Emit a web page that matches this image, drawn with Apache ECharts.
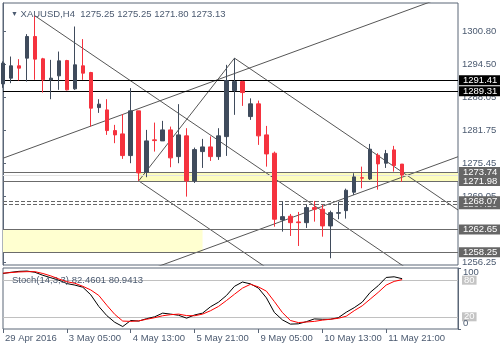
<!DOCTYPE html>
<html>
<head>
<meta charset="utf-8">
<script src="https://cdn.jsdelivr.net/npm/echarts@6/dist/echarts.min.js"></script>
<style>
  html, body { margin: 0; padding: 0; background: #ffffff; }
  #chart { width: 500px; height: 350px; }
</style>
</head>
<body>
<div id="chart"></div>
<script>
// ---- data -------------------------------------------------------------
const symbolTitle = 'XAUUSD,H4';
const lastQuote = ['1275.25', '1275.25', '1271.80', '1273.13'];

// date labels, one every 8 H4 bars
const timeTicks = ['29 Apr 2016', '3 May 05:00', '4 May 13:00', '5 May 21:00',
                   '9 May 05:00', '10 May 13:00', '11 May 21:00'];
const barsPerTick = 8;
const totalSlots = 58; // bar slots shown, including the empty right margin

const opens  = [1290.71, 1291.81, 1294.19, 1295.67, 1299.84, 1295.54, 1291.49, 1292.26, 1295.21, 1289.75,
                1294.19, 1292.90, 1286.14, 1285.70, 1281.71, 1281.07, 1276.89, 1285.51, 1273.68, 1279.92,
                1279.72, 1281.84, 1276.69, 1280.69, 1272.01, 1277.66, 1278.56, 1276.69, 1280.55, 1289.42,
                1291.16, 1284.41, 1286.86, 1280.88, 1277.35, 1264.49, 1265.20, 1264.10, 1263.96, 1266.86,
                1266.55, 1263.33, 1265.78, 1266.28, 1269.83, 1272.64, 1272.39, 1276.96, 1275.42, 1277.99,
                1275.25];
const highs  = [1295.05, 1295.98, 1295.48, 1300.30, 1303.83, 1295.73, 1295.34, 1296.94, 1295.34, 1301.77,
                1299.34, 1293.03, 1287.76, 1287.76, 1282.81, 1284.87, 1289.89, 1285.51, 1281.84, 1283.25,
                1283.58, 1282.48, 1286.80, 1282.17, 1278.43, 1280.11, 1280.59, 1282.17, 1294.38, 1295.67,
                1291.30, 1287.92, 1287.49, 1282.61, 1277.66, 1268.01, 1265.64, 1266.03, 1267.38, 1268.15,
                1267.38, 1266.28, 1268.01, 1270.52, 1273.49, 1274.76, 1279.14, 1277.35, 1277.98, 1278.76,
                1275.25];
const lows   = [1289.95, 1290.85, 1291.35, 1291.16, 1291.49, 1289.04, 1287.76, 1289.56, 1289.46, 1289.56,
                1291.49, 1282.48, 1285.12, 1280.88, 1279.28, 1276.25, 1275.42, 1272.01, 1272.72, 1277.66,
                1279.72, 1274.65, 1275.42, 1268.98, 1271.62, 1274.51, 1275.86, 1276.06, 1276.83, 1284.74,
                1286.47, 1283.77, 1278.95, 1274.76, 1263.19, 1262.23, 1261.40, 1259.47, 1262.94, 1264.16,
                1261.26, 1257.10, 1264.62, 1264.74, 1269.31, 1270.60, 1272.20, 1270.33, 1274.51, 1273.80,
                1271.80];
const closes = [1294.70, 1294.19, 1293.74, 1299.84, 1295.48, 1291.49, 1291.81, 1295.15, 1289.56, 1294.38,
                1292.78, 1286.03, 1286.80, 1281.71, 1280.88, 1276.89, 1285.51, 1273.55, 1279.72, 1279.78,
                1281.84, 1276.45, 1280.88, 1272.01, 1278.04, 1278.56, 1276.69, 1280.69, 1291.35, 1291.16,
                1289.04, 1286.86, 1280.69, 1277.21, 1264.62, 1265.12, 1263.96, 1263.96, 1266.86, 1266.55,
                1263.33, 1265.89, 1265.89, 1270.21, 1272.78, 1272.53, 1278.12, 1275.29, 1277.27, 1274.96,
                1273.13];

// Stochastic(14,3,3): main and signal lines
const stochK = [91, 93, 94.5, 95, 93, 88, 84, 80, 74.5, 72,
                68.5, 56, 37, 22, 11, 4, 14, 13, 17, 20,
                26, 24.4, 22.5, 17.8, 23, 26, 36.5, 44, 55, 70,
                77, 74, 67, 51, 27, 15, 8, 8.5, 12, 16.5,
                16, 16, 18.5, 27.5, 35, 44, 60, 71, 84.5, 85.6,
                82.4601];
const stochD = [91.5, 92.5, 93.5, 94, 94, 91, 87, 82, 77.5, 75,
                70, 64, 55, 39, 24, 13, 12.5, 13.3, 16, 18.5,
                21.7, 23.5, 24.4, 22, 21.7, 24.4, 30, 37, 46.7, 57,
                67, 73.3, 69, 62, 45, 27, 14, 10.5, 11.5, 12.5,
                14.5, 16, 17.5, 21, 30, 38, 49, 60, 72, 78,
                80.9413];
const stochLevels = [80, 20];
const stochScale = [0, 100];

// price scale
const priceRange = [1255.8, 1306.3];
const priceTicks = [1256.25, 1262.65, 1269.05, 1275.45, 1281.75, 1288.05, 1294.50, 1300.80];

// horizontal levels
const blackLevels  = [1291.41, 1289.31];
const grayLevels   = [1273.74, 1271.98, 1262.65, 1258.25];
const dashedLevels = [1267.50, 1268.07];
const bidPrice = 1273.13;

// shaded zones: [fromBar, toBar, top, bottom]
const zoneUpper = [17, 57, 1273.74, 1271.98];
const zoneLower = [0, 25, 1262.65, 1258.25];

// trendlines, each between two [bar, price] anchors
const trendLines = [
  [[4, 1303.83], [56, 1249.49]],
  [[29, 1295.67], [57, 1266.41]],
  [[17, 1272.01], [34, 1254.24]],
  [[17, 1272.01], [29, 1295.67]],
  [[0, 1276.38], [57, 1308.47]],
  [[17, 1254.15], [57, 1276.67]]
];

// ---- styling -----------------------------------------------------------
const FONT = 'Liberation Sans, Arial, sans-serif';
const FS = 9.5;
const TEXT = '#4b5a70';
const FRAME = '#5a6677';
const BULL = '#3f4b5c';
const BEAR = '#f5323e';

const slots = Array.from({ length: totalSlots }, (_, i) => String(i));
const isTickSlot = i => i % barsPerTick === 0 && (i / barsPerTick) < timeTicks.length;

function levelLine(value, lineColor, lineType, boxColor) {
  return {
    yAxis: value,
    lineStyle: { color: lineColor, type: lineType, width: 1 },
    label: {
      show: true, position: 'end', distance: 1,
      formatter: value.toFixed(2),
      color: '#ffffff', backgroundColor: boxColor,
      fontFamily: FONT, fontSize: FS, lineHeight: 10, padding: [0, 6, 0, 4]
    }
  };
}

const levelData = []
  .concat(dashedLevels.map(v => levelLine(v, '#666666', [4, 2], '#666666')))
  .concat(grayLevels.map(v => levelLine(v, '#6b6b6b', 'solid', '#666666')))
  .concat(blackLevels.map(v => levelLine(v, '#000000', 'solid', '#000000')));

const stochLevelTags = stochLevels.map(v => ({
  yAxis: v,
  lineStyle: { color: '#c0c0c0', type: 'solid', width: 1 },
  label: {
    show: true, position: 'end', distance: 4, formatter: String(v),
    color: '#ffffff', backgroundColor: '#c4c4c4',
    fontFamily: FONT, fontSize: FS, lineHeight: 9, padding: [0, 2, 0, 2]
  }
}));

const candles = opens.map((o, i) => [o, closes[i], lows[i], highs[i]]);

const plainText = { color: TEXT, fontSize: FS, fontWeight: 'normal', fontFamily: FONT };

const chart = echarts.init(document.getElementById('chart'), null, { renderer: 'canvas' });

chart.setOption({
  animation: false,
  backgroundColor: '#ffffff',
  textStyle: { fontFamily: FONT },
  title: [
    {
      left: 6, top: 4,
      text: '{tri|▼} ' + symbolTitle + '  ' + lastQuote.join(' '),
      textStyle: Object.assign({}, plainText, { rich: { tri: { fontSize: 7, color: TEXT } } })
    },
    {
      left: 7, top: 270,
      text: 'Stoch(14,3,3) ' + stochK[stochK.length - 1].toFixed(4) + ' ' + stochD[stochD.length - 1].toFixed(4),
      textStyle: plainText
    },
    // oscillator scale: top and bottom values, set just inside the panel edges
    { left: 463, top: 267, padding: 0, text: String(stochScale[1]), textStyle: plainText },
    { left: 463, top: 318, padding: 0, text: String(stochScale[0]), textStyle: plainText }
  ],
  grid: [
    { left: 3, top: 3, width: 455, height: 262, show: true, borderColor: FRAME, borderWidth: 1 },
    { left: 3, top: 268, width: 455, height: 61, show: true, borderColor: FRAME, borderWidth: 1 }
  ],
  xAxis: [
    {
      type: 'category', gridIndex: 0, data: slots, boundaryGap: false,
      axisLine: { show: false }, axisTick: { show: false }, axisLabel: { show: false },
      splitLine: { show: false }
    },
    {
      type: 'value', gridIndex: 0, min: 0, max: totalSlots - 1, show: false
    },
    {
      type: 'category', gridIndex: 1, data: slots, boundaryGap: false,
      axisLine: { show: false },
      axisTick: { show: true, length: 4, interval: i => isTickSlot(i), lineStyle: { color: FRAME } },
      axisLabel: {
        interval: i => isTickSlot(i),
        formatter: (v, i) => isTickSlot(i) ? timeTicks[i / barsPerTick] : '',
        align: 'left', margin: 4, padding: [0, 0, 0, 2],
        color: TEXT, fontSize: FS, fontFamily: FONT
      },
      splitLine: { show: false }
    }
  ],
  yAxis: [
    {
      type: 'value', gridIndex: 0, position: 'right',
      min: priceRange[0], max: priceRange[1],
      axisLine: { show: true, lineStyle: { color: FRAME } },
      axisTick: { show: true, length: 3, customValues: priceTicks, lineStyle: { color: FRAME } },
      axisLabel: {
        customValues: priceTicks, formatter: v => v.toFixed(2),
        margin: 4, color: TEXT, fontSize: FS, fontFamily: FONT
      },
      splitLine: { show: false }
    },
    {
      type: 'value', gridIndex: 1, position: 'right',
      min: stochScale[0], max: stochScale[1], interval: stochScale[1] - stochScale[0],
      axisLine: { show: true, lineStyle: { color: FRAME } },
      axisTick: { show: true, length: 3, lineStyle: { color: FRAME } },
      axisLabel: { show: false },
      splitLine: { show: false }
    }
  ],
  series: [
    // current bid line
    {
      type: 'line', xAxisIndex: 1, yAxisIndex: 0, data: [], z: 1, silent: true,
      markLine: {
        silent: true, symbol: 'none', label: { show: false },
        data: [{ yAxis: bidPrice, lineStyle: { color: '#e3e3e3', type: 'solid', width: 1 } }]
      }
    },
    // shaded zones
    {
      type: 'line', xAxisIndex: 1, yAxisIndex: 0, data: [], z: 2, silent: true,
      markArea: {
        silent: true,
        itemStyle: { color: '#fdfdbd' },
        data: [
          [{ xAxis: zoneUpper[0], yAxis: zoneUpper[2] }, { xAxis: zoneUpper[1], yAxis: zoneUpper[3] }],
          [{ xAxis: zoneLower[0], yAxis: zoneLower[2], itemStyle: { color: '#ffffd0' } },
           { xAxis: zoneLower[1], yAxis: zoneLower[3] }]
        ]
      }
    },
    // horizontal levels with price tags
    {
      type: 'line', xAxisIndex: 1, yAxisIndex: 0, data: [], z: 3, silent: true,
      markLine: { silent: true, symbol: 'none', data: levelData }
    },
    // trendlines
    ...trendLines.map(seg => ({
      type: 'line', xAxisIndex: 1, yAxisIndex: 0, data: seg, z: 4, silent: true,
      symbol: 'none', clip: true,
      lineStyle: { color: '#565656', width: 1 }
    })),
    // price bars
    {
      type: 'candlestick', xAxisIndex: 0, yAxisIndex: 0, data: candles, z: 5,
      barWidth: 4,
      itemStyle: {
        color: BULL, color0: BEAR, borderColor: BULL, borderColor0: BEAR, borderWidth: 1
      }
    },
    // stochastic
    {
      type: 'line', xAxisIndex: 2, yAxisIndex: 1, data: stochK, z: 5,
      symbol: 'none', lineStyle: { color: '#000000', width: 1 },
      markLine: { silent: true, symbol: 'none', data: stochLevelTags }
    },
    {
      type: 'line', xAxisIndex: 2, yAxisIndex: 1, data: stochD, z: 6,
      symbol: 'none', lineStyle: { color: '#ff0000', width: 1 }
    }
  ]
});
</script>
</body>
</html>
